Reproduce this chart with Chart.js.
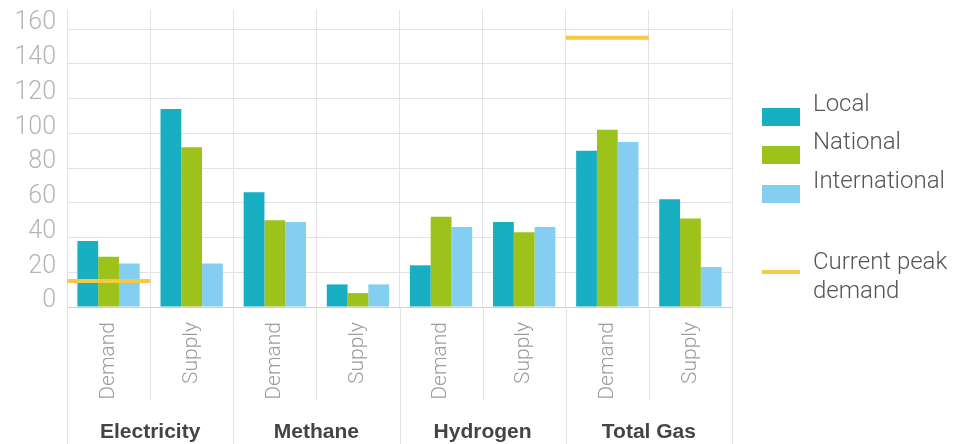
<!DOCTYPE html>
<html>
<head>
<meta charset="utf-8">
<script src="https://cdn.jsdelivr.net/npm/chart.js@4.4.1/dist/chart.umd.min.js"></script>
<style>
  body { margin: 0; background: #fff; }
  #wrap { position: relative; width: 965px; height: 444px; }
  #legend { position: absolute; left: 0; top: 0; font-family: Roboto, "Liberation Sans", sans-serif; font-weight: 300; font-size: 24px; color: #555; }
  .item { position: absolute; left: 813px; white-space: nowrap; line-height: 39px; }
  .item.two { line-height: 29px; }
  .mark { position: absolute; left: 762px; width: 38px; }
</style>
</head>
<body>
<div id="wrap">
  <canvas id="canvas" width="965" height="444"></canvas>
  <div id="legend"></div>
</div>
<script>
// Dữ liệu biểu đồ
const categories = ['Demand', 'Supply', 'Demand', 'Supply', 'Demand', 'Supply', 'Demand', 'Supply'];
const groups = ['Electricity', 'Methane', 'Hydrogen', 'Total Gas'];
const local = [38, 114, 66, 13, 24, 49, 90, 62];
const national = [29, 92, 50, 8, 52, 43, 102, 51];
const international = [25, 25, 49, 13, 46, 46, 95, 23];
const peakDemand = [15, null, null, null, null, null, 155, null];
const yTicks = [0, 20, 40, 60, 80, 100, 120, 140, 160];

// Màu
const cLocal = '#17afc1';
const cNational = '#9dc21b';
const cIntl = '#84cef2';
const cPeak = '#f7c843';
const gridColor = '#e3e3e3';

// Bỏ phần đệm tự động của trục
const noPad = s => { s.paddingTop = 0; s.paddingBottom = 0; s.paddingLeft = 0; s.paddingRight = 0; };

// Đường "Current peak demand": trải hết chiều rộng cột danh mục, vị trí lấy từ các trục
const peakLines = {
    id: 'peakLines',
    afterDatasetsDraw(chart) {
        const xs = chart.scales.x, ys = chart.scales.y;
        const w = xs.width / categories.length;
        const c = chart.ctx;
        c.save();
        c.strokeStyle = cPeak;
        c.lineWidth = 4;
        c.lineCap = 'butt';
        peakDemand.forEach((v, i) => {
            if (v === null) return;
            const cx = xs.getPixelForValue(i);
            const y = ys.getPixelForValue(v);
            c.beginPath();
            c.moveTo(cx - w / 2, y);
            c.lineTo(cx + w / 2, y);
            c.stroke();
        });
        c.restore();
    }
};

// Vạch chia dưới trục x
const dividers = {
    id: 'dividers',
    afterDraw(chart) {
        const xs = chart.scales.x;
        const w = xs.width / categories.length;
        const c = chart.ctx;
        c.save();
        c.strokeStyle = gridColor;
        c.lineWidth = 1;
        for (let i = 0; i <= categories.length; i++) {
            const px = Math.round(xs.left + i * w) + 0.5;
            const end = i % 2 === 0 ? chart.height : 400;
            c.beginPath();
            c.moveTo(px, chart.chartArea.bottom);
            c.lineTo(px, end);
            c.stroke();
        }
        c.restore();
    }
};

const barOpts = { xAxisID: 'x', categoryPercentage: 0.75, barPercentage: 1 };

const ctx = document.getElementById('canvas').getContext('2d');
new Chart(ctx, {
    type: 'bar',
    data: {
        labels: categories,
        datasets: [
            { label: 'Local', data: local, backgroundColor: cLocal, ...barOpts },
            { label: 'National', data: national, backgroundColor: cNational, ...barOpts },
            { label: 'International', data: international, backgroundColor: cIntl, ...barOpts }
        ]
    },
    options: {
        responsive: false,
        animation: false,
        layout: { padding: { top: 10, right: 233, left: 0, bottom: 0 } },
        plugins: { legend: { display: false }, tooltip: { enabled: false } },
        scales: {
            x: {
                type: 'category',
                offset: true,
                weight: 1,
                grid: { color: gridColor, drawTicks: false, offset: true },
                border: { color: '#d0d0d0' },
                ticks: {
                    autoSkip: false, minRotation: 90, maxRotation: 90, padding: 15,
                    color: '#9c9c9c', font: { family: 'Roboto', weight: 300, size: 21 }
                },
                afterFit: s => { s.height = 100; noPad(s); }
            },
            group: {
                type: 'category',
                labels: groups,
                position: 'bottom',
                offset: true,
                weight: 2,
                grid: { display: false },
                border: { display: false },
                ticks: { padding: 5, color: '#444', font: { family: 'Liberation Sans', weight: 'bold', size: 21 } },
                afterFit: s => { s.height = 37; noPad(s); }
            },
            y: {
                min: 0,
                max: 171,
                afterBuildTicks: s => { s.ticks = yTicks.map(v => ({ value: v })); },
                grid: { color: gridColor, drawTicks: false },
                border: { color: gridColor },
                ticks: {
                    padding: 11, labelOffset: -6, color: '#b5b5b5',
                    font: { family: 'Roboto', weight: 300, size: 25 }
                },
                afterFit: s => { s.width = 67; noPad(s); }
            }
        }
    },
    plugins: [peakLines, dividers]
});

// Chú thích HTML
const legend = document.getElementById('legend');
const items = [
    { text: 'Local', color: cLocal, top: 84, mark: 108 },
    { text: 'National', color: cNational, top: 122, mark: 146 },
    { text: 'International', color: cIntl, top: 161, mark: 185 }
];
items.forEach(it => {
    const t = document.createElement('div');
    t.className = 'item';
    t.style.top = it.top + 'px';
    t.textContent = it.text;
    legend.appendChild(t);
    const m = document.createElement('div');
    m.className = 'mark';
    m.style.top = it.mark + 'px';
    m.style.height = '18px';
    m.style.background = it.color;
    legend.appendChild(m);
});
const pk = document.createElement('div');
pk.className = 'item two';
pk.style.top = '247px';
pk.innerHTML = 'Current peak<br>demand';
legend.appendChild(pk);
const pm = document.createElement('div');
pm.className = 'mark';
pm.style.top = '270px';
pm.style.height = '4px';
pm.style.background = cPeak;
legend.appendChild(pm);
</script>
</body>
</html>
